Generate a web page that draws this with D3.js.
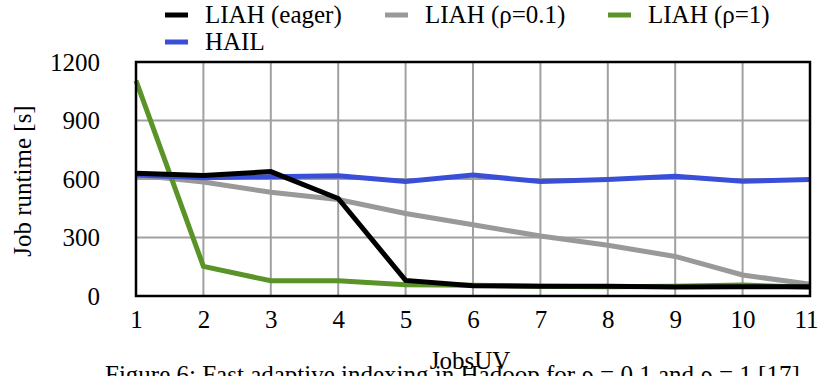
<!DOCTYPE html>
<html>
<head>
<meta charset="utf-8">
<script src="https://cdn.jsdelivr.net/npm/d3@7"></script>
<style>
  body { margin: 0; background: #fff; }
  svg text { font-family: "Liberation Serif", "Times New Roman", Tinos, "DejaVu Serif", serif; }
</style>
</head>
<body>
<div class="container"></div>
<script>
// values
const jobs = [1, 2, 3, 4, 5, 6, 7, 8, 9, 10, 11]
const liahEager = [630, 618, 638, 500, 80, 52, 50, 50, 46, 48, 48]
const liahRho01 = [620, 585, 532, 495, 423, 365, 308, 260, 203, 108, 60]
const liahRho1 = [1105, 152, 78, 78, 58, 55, 50, 48, 50, 56, 45]
const hail = [620, 607, 612, 617, 587, 620, 587, 598, 614, 588, 598]
const yTicks = [0, 300, 600, 900, 1200]

const seriesNames = ["LIAH (eager)", "LIAH (ρ=0.1)", "LIAH (ρ=1)", "HAIL"]
const seriesColors = ["#000000", "#999999", "#5a9428", "#3a4fd8"]

const w = 818
const h = 376
const margin = { left: 136, right: 8, top: 62, bottom: 80 }

const svg = d3.select(".container")
  .append("svg")
  .attr("width", w)
  .attr("height", h)

const xScale = d3.scaleLinear()
  .domain([1, 11])
  .range([margin.left, w - margin.right])

const yScale = d3.scaleLinear()
  .domain([0, 1200])
  .range([h - margin.bottom, margin.top])

// grid
svg.append("g")
  .selectAll("line")
  .data(jobs)
  .enter()
  .append("line")
  .attr("x1", d => xScale(d)).attr("x2", d => xScale(d))
  .attr("y1", yScale(0)).attr("y2", yScale(1200))
  .attr("stroke", "#a0a0a0")
  .attr("stroke-width", 2)

svg.append("g")
  .selectAll("line")
  .data(yTicks)
  .enter()
  .append("line")
  .attr("x1", xScale(1)).attr("x2", xScale(11))
  .attr("y1", d => yScale(d)).attr("y2", d => yScale(d))
  .attr("stroke", "#a0a0a0")
  .attr("stroke-width", 2)

// axes (labels only)
const xAxis = d3.axisBottom(xScale).tickValues(jobs).tickSize(0).tickPadding(14).tickFormat(d3.format("d"))
svg.append("g")
  .attr("transform", `translate(0, ${yScale(0)})`)
  .call(xAxis)
  .attr("font-family", null)
  .call(g => g.select(".domain").remove())
  .call(g => g.selectAll("text").attr("font-size", 25).attr("fill", "#000"))

// last label sits at the right edge, keep it inside
svg.selectAll("g.tick text").filter(d => d === 11).attr("text-anchor", "end").attr("dx", 8)

const yAxis = d3.axisLeft(yScale).tickValues(yTicks).tickSize(0).tickPadding(36).tickFormat(d3.format("d"))
svg.append("g")
  .attr("transform", `translate(${margin.left}, 0)`)
  .call(yAxis)
  .attr("font-family", null)
  .call(g => g.select(".domain").remove())
  .call(g => g.selectAll("text").attr("font-size", 25).attr("fill", "#000"))

// lines, grey and green underneath
const seriesList = [liahEager, liahRho01, liahRho1, hail]
const drawOrder = [1, 2, 3, 0]
const line = d3.line()
  .x((d, i) => xScale(jobs[i]))
  .y(d => yScale(d))

drawOrder.forEach(k => {
  svg.append("path")
    .datum(seriesList[k])
    .attr("d", line)
    .attr("fill", "none")
    .attr("stroke", seriesColors[k])
    .attr("stroke-width", 5)
    .attr("stroke-linejoin", "miter")
})

// plot frame
svg.append("rect")
  .attr("x", xScale(1))
  .attr("y", yScale(1200))
  .attr("width", xScale(11) - xScale(1))
  .attr("height", yScale(0) - yScale(1200))
  .attr("fill", "none")
  .attr("stroke", "#000")
  .attr("stroke-width", 2.5)

// legend
const legendPos = [[165, 15], [385, 15], [608, 15], [165, 42]]
seriesNames.forEach((name, i) => {
  const g = svg.append("g").attr("transform", `translate(${legendPos[i][0]}, ${legendPos[i][1]})`)
  g.append("line")
    .attr("x1", 0).attr("x2", 23)
    .attr("stroke", seriesColors[i])
    .attr("stroke-width", 5)
  g.append("text")
    .attr("x", 40)
    .attr("y", 8)
    .attr("font-size", 25)
    .text(name)
})

// axis titles
svg.append("text")
  .attr("transform", "translate(31, 181) rotate(-90)")
  .attr("text-anchor", "middle")
  .attr("font-size", 25)
  .text("Job runtime [s]")

svg.append("text")
  .attr("x", 470)
  .attr("y", 369)
  .attr("text-anchor", "middle")
  .attr("font-size", 25)
  .text("JobsUV")

// caption of the figure, mostly cut off at the bottom
svg.append("text")
  .attr("x", 105)
  .attr("y", 383)
  .attr("font-size", 25)
  .text("Figure 6: Fast adaptive indexing in Hadoop for ρ = 0.1 and ρ = 1 [17]")
</script>
</body>
</html>
